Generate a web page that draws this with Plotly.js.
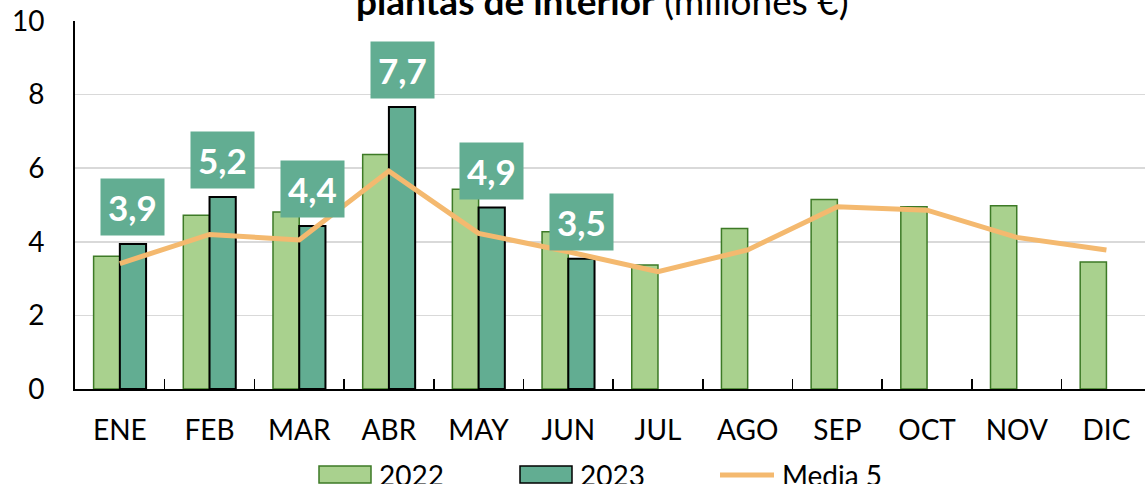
<!DOCTYPE html>
<html>
<head>
<meta charset="utf-8">
<script src="https://cdn.plot.ly/plotly-3.0.1.min.js"></script>
<style>html,body{margin:0;padding:0;overflow:hidden;background:#fff}</style>
</head>
<body>
<div id="chart" style="width:1145px;height:484px"></div>
<script>
const months = ['ENE','FEB','MAR','ABR','MAY','JUN','JUL','AGO','SEP','OCT','NOV','DIC'];
const v2022 = [3.61, 4.72, 4.81, 6.37, 5.43, 4.27, 3.37, 4.36, 5.15, 4.95, 4.98, 3.45];
const v2023 = [3.94, 5.22, 4.43, 7.66, 4.93, 3.54, null, null, null, null, null, null];
const media5 = [3.41, 4.20, 4.05, 5.92, 4.23, 3.73, 3.19, 3.78, 4.95, 4.86, 4.12, 3.78];
const seriesNames = ['2022', '2023', 'Media 5'];
const titleBold = 'plantas de interior';
const titleRest = '(millones €)';

const W = 1145, H = 484;
const M = {l: 75, r: 0, t: 21, b: 95};
const plotW = W - M.l - M.r, plotH = H - M.t - M.b;
const xRange = [-0.5, 11.43];
const bargap = 0.415;
const pxPerCat = plotW / (xRange[1] - xRange[0]);
const barOffsetPx = pxPerCat * (1 - bargap) / 4;

const FONT = 'Lato, "Open Sans", sans-serif';
const c2022 = '#A9D18E', c2022line = '#3D7A26';
const c2023 = '#62AD92';
const cLine = '#F4B96F';

// pixel -> paper helpers for legend placement
const px = x => (x - M.l) / plotW;
const py = y => (M.t + plotH - y) / plotH;

const traces = [
  {type: 'bar', name: seriesNames[0], x: months, y: v2022,
   marker: {color: c2022, line: {color: c2022line, width: 1.5}}},
  {type: 'bar', name: seriesNames[1], x: months, y: v2023,
   marker: {color: c2023, line: {color: '#000', width: 2}}},
  {type: 'scatter', mode: 'lines', name: seriesNames[2], x: months, y: media5,
   line: {color: cLine, width: 5}}
];

const annotations = [];
v2023.forEach((v, i) => {
  if (v === null) return;
  annotations.push({
    x: months[i], y: v, xref: 'x', yref: 'y',
    xshift: barOffsetPx, yshift: 8, yanchor: 'bottom', xanchor: 'center',
    text: '<b>' + v.toFixed(1).replace('.', ',') + '</b>',
    showarrow: false, bgcolor: c2023, borderpad: 7,
    font: {family: FONT, size: 35, color: '#fff'}
  });
});
annotations.push({
  x: 0.5, y: 1, xref: 'paper', yref: 'paper', yanchor: 'bottom', xanchor: 'center',
  xshift: -8, yshift: -4,
  text: '<b>' + titleBold + '</b> ' + titleRest, showarrow: false,
  font: {family: FONT, size: 37, color: '#000'}
});

// legend
const shapes = [
  {type: 'rect', xref: 'paper', yref: 'paper', x0: px(319), x1: px(371), y0: py(483), y1: py(466),
   fillcolor: c2022, line: {color: c2022line, width: 1.5}},
  {type: 'rect', xref: 'paper', yref: 'paper', x0: px(520), x1: px(572), y0: py(483), y1: py(466),
   fillcolor: c2023, line: {color: '#000', width: 1.5}},
  {type: 'line', xref: 'paper', yref: 'paper', x0: px(720), x1: px(774), y0: py(475), y1: py(475),
   line: {color: cLine, width: 5}}
];
[[377, seriesNames[0]], [578, seriesNames[1]], [780, seriesNames[2]]].forEach(([x, t]) => {
  annotations.push({x: px(x), y: py(475), xref: 'paper', yref: 'paper', xanchor: 'left', yanchor: 'middle',
    text: t, showarrow: false, font: {family: FONT, size: 28, color: '#000'}});
});

const layout = {
  width: W, height: H, margin: M,
  paper_bgcolor: '#fff', plot_bgcolor: '#fff',
  barmode: 'group', bargap: bargap, bargroupgap: 0,
  showlegend: false,
  font: {family: FONT, size: 28, color: '#000'},
  xaxis: {type: 'category', range: xRange, showline: true, linecolor: '#000', linewidth: 2,
    ticks: 'inside', tickson: 'boundaries', ticklen: 10, tickcolor: '#000', tickwidth: 1.5,
    showgrid: false, tickfont: {family: FONT, size: 28, color: '#000'}, ticklabelstandoff: 15},
  yaxis: {range: [0, 10], dtick: 2, showline: true, linecolor: '#000', linewidth: 2,
    showgrid: true, gridcolor: '#D9D9D9', gridwidth: 1.5, zeroline: false, ticks: '',
    tickfont: {family: FONT, size: 28, color: '#000'}, ticklabelstandoff: 23},
  annotations: annotations,
  shapes: shapes
};

Plotly.newPlot('chart', traces, layout, {staticPlot: true, displayModeBar: false});
</script>
</body>
</html>
